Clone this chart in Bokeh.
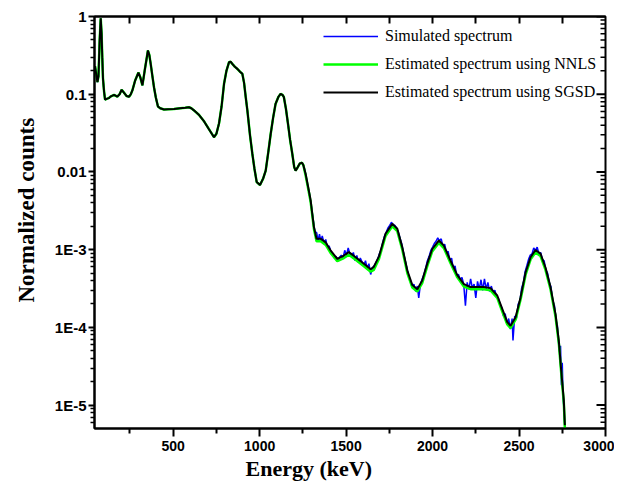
import math
from bokeh.plotting import figure
from bokeh.models import (Range1d, FixedTicker, Legend, LegendItem, LinearAxis,
                          CustomJSTickFormatter, CustomLabelingPolicy, Title)
from bokeh.embed import file_html
from bokeh.resources import INLINE

# ---------------- data ----------------
# low-energy part: all three spectra coincide
low_energy = [48, 55, 62, 68, 75, 81, 86, 90, 94, 100, 106, 115, 127, 140, 158,
              177, 190, 202, 215, 230, 245, 255, 264, 280, 299, 310, 322, 335,
              354, 362, 370, 380, 389, 400, 412, 425, 447, 470, 505, 540, 570,
              591, 605, 620, 650, 678, 705, 736, 750, 765, 780, 794, 808, 823,
              832, 842, 857, 871, 886, 900, 910, 920, 929, 944, 958, 970, 983,
              1002, 1020, 1035, 1050, 1064, 1078, 1092, 1108, 1121, 1132, 1140,
              1152, 1164, 1176, 1189, 1200, 1208, 1220, 1233, 1245, 1253]
low_counts = [0.23, 0.18, 0.143, 0.17, 0.5, 0.95, 0.6, 0.3, 0.16, 0.11, 0.085,
              0.087, 0.089, 0.094, 0.098, 0.093, 0.1, 0.114, 0.105, 0.095, 0.093,
              0.1, 0.112, 0.15, 0.19, 0.165, 0.13, 0.2, 0.365, 0.32, 0.246, 0.17,
              0.123, 0.09, 0.0695, 0.066, 0.0636, 0.064, 0.0645, 0.066, 0.067,
              0.068, 0.066, 0.062, 0.054, 0.045, 0.036, 0.028, 0.031, 0.042, 0.07,
              0.136, 0.2, 0.258, 0.262, 0.246, 0.225, 0.212, 0.195, 0.183, 0.14,
              0.09, 0.062, 0.03, 0.017, 0.011, 0.0074, 0.0068, 0.0082, 0.0104,
              0.018, 0.031, 0.05, 0.075, 0.092, 0.101, 0.098, 0.092, 0.065,
              0.0416, 0.026, 0.017, 0.0115, 0.0104, 0.0115, 0.0129, 0.0131, 0.0122]

# high-energy part of the estimated spectra
tail_energy = [1266, 1280, 1295, 1305, 1314, 1329, 1353, 1382, 1410, 1449, 1487,
               1516, 1555, 1603, 1642, 1660, 1690, 1728, 1767, 1796, 1825, 1854,
               1883, 1912, 1940, 1969, 1998, 2036, 2065, 2104, 2143, 2181, 2220,
               2260, 2297, 2335, 2374, 2403, 2432, 2451, 2480, 2509, 2538, 2567,
               2595, 2624, 2653, 2682, 2711, 2730, 2744, 2759, 2765]
sgsd_tail = [0.0094, 0.0065, 0.0043, 0.0028, 0.00195, 0.00138, 0.00138, 0.00124,
             0.00098, 0.00076, 0.00084, 0.00093, 0.0008, 0.00066, 0.00056, 0.0006,
             0.00082, 0.0016, 0.00215, 0.00186, 0.00107, 0.00054, 0.00035, 0.00031,
             0.0004, 0.00066, 0.00102, 0.00131, 0.00113, 0.00072, 0.00047, 0.00036,
             0.00033, 0.00033, 0.00033, 0.00032, 0.000257, 0.000173, 0.000117,
             0.000105, 0.000135, 0.000245, 0.000512, 0.0008, 0.00099, 0.00089,
             0.00059, 0.00033, 0.000148, 0.0000676, 0.0000276, 0.0000115, 0.0000055]
nnls_tail = [0.009, 0.0062, 0.0041, 0.0027, 0.00185, 0.00128, 0.00128, 0.00115,
             0.00091, 0.00071, 0.00078, 0.00086, 0.00074, 0.00061, 0.00052, 0.00055,
             0.00076, 0.0015, 0.002, 0.00173, 0.001, 0.0005, 0.000325, 0.00029,
             0.00037, 0.00061, 0.00095, 0.00122, 0.00105, 0.00067, 0.00044, 0.000335,
             0.00031, 0.00031, 0.00031, 0.0003, 0.00024, 0.00016, 0.000109, 0.000098,
             0.000126, 0.000228, 0.000476, 0.00075, 0.00092, 0.00083, 0.00055,
             0.00031, 0.000138, 0.000063, 0.0000257, 0.0000107, 0.0000051]

# high-energy part of the (noisy) simulated spectrum
sim_energy = [1262, 1275, 1288, 1300, 1310, 1320, 1330, 1338, 1346, 1354, 1362,
              1372, 1382, 1392, 1402, 1412, 1422, 1432, 1442, 1452, 1462, 1472,
              1482, 1492, 1502, 1512, 1522, 1532, 1542, 1552, 1562, 1572, 1582,
              1592, 1602, 1612, 1622, 1632, 1642, 1652, 1662, 1672, 1682, 1692,
              1702, 1712, 1722, 1732, 1742, 1752, 1762, 1772, 1782, 1792, 1802,
              1812, 1822, 1832, 1842, 1852, 1862, 1872, 1882, 1892, 1902, 1912,
              1920, 1930, 1940, 1950, 1960, 1970, 1980, 1990, 2000, 2010, 2020,
              2030, 2040, 2050, 2060, 2070, 2080, 2090, 2100, 2110, 2120, 2130,
              2140, 2150, 2160, 2170, 2180, 2190, 2200, 2210, 2220, 2230, 2240,
              2250, 2260, 2270, 2280, 2290, 2300, 2310, 2320, 2330, 2340, 2350,
              2360, 2370, 2380, 2390, 2400, 2410, 2420, 2430, 2440, 2450, 2460,
              2465, 2475, 2485, 2495, 2505, 2515, 2525, 2535, 2545, 2555, 2565,
              2575, 2585, 2595, 2605, 2615, 2625, 2635, 2645, 2655, 2665, 2675,
              2685, 2695, 2705, 2715, 2722, 2730, 2735, 2740, 2745, 2750, 2755,
              2760, 2765]
sim_counts = [0.0105, 0.0072, 0.0052, 0.0035, 0.0024, 0.0017, 0.00165, 0.0013,
              0.00158, 0.00128, 0.0015, 0.00122, 0.00135, 0.00108, 0.00112, 0.00094,
              0.00088, 0.00078, 0.00082, 0.00072, 0.0008, 0.00085, 0.00078, 0.00098,
              0.00085, 0.00105, 0.00088, 0.00082, 0.00092, 0.00072, 0.00084, 0.00068,
              0.00078, 0.0007, 0.00062, 0.00072, 0.00058, 0.00066, 0.00048, 0.00058,
              0.00062, 0.00068, 0.00075, 0.00088, 0.001, 0.00125, 0.0015, 0.00168,
              0.0019, 0.00205, 0.00225, 0.0021, 0.00205, 0.0019, 0.00168, 0.0014,
              0.00118, 0.00092, 0.00072, 0.00058, 0.00046, 0.00039, 0.00033, 0.00036,
              0.00029, 0.00034, 0.00024, 0.00036, 0.00042, 0.00048, 0.00058, 0.00072,
              0.00082, 0.00098, 0.00108, 0.0012, 0.00128, 0.00142, 0.0013, 0.00138,
              0.0011, 0.00118, 0.00092, 0.00095, 0.00072, 0.00078, 0.00056, 0.00062,
              0.00046, 0.00048, 0.00041, 0.00044, 0.00036, 0.00019, 0.00038, 0.00031,
              0.00042, 0.00032, 0.00036, 0.00024, 0.00039, 0.00031, 0.00041, 0.0003,
              0.00042, 0.00031, 0.00038, 0.00029, 0.00034, 0.00028, 0.0003, 0.00025,
              0.00024, 0.0002, 0.00018, 0.00014, 0.00015, 0.00011, 0.00013, 0.000095,
              0.00013, 0.000068, 0.00014, 0.00013, 0.0002, 0.00022, 0.00032, 0.00038,
              0.00052, 0.00062, 0.00075, 0.00085, 0.00088, 0.00105, 0.00098, 0.00108,
              0.00088, 0.00092, 0.00075, 0.00072, 0.00055, 0.0005, 0.00038, 0.00033,
              0.00022, 0.00019, 0.00012, 0.000105, 0.000058, 0.000048, 0.000058,
              0.000018, 0.000035, 0.000012, 0.000009, 0.0000052]

series_labels = ["Simulated spectrum", "Estimated spectrum using NNLS",
                 "Estimated spectrum using SGSD"]
x_label = "Energy (keV)"
y_label = "Normalized counts"
x_ticks = [500, 1000, 1500, 2000, 2500, 3000]
x_minor = [250, 750, 1250, 1750, 2250, 2750]
y_ticks = [1e-5, 1e-4, 1e-3, 1e-2, 1e-1, 1]
y_minor = [k * 10.0 ** e for e in range(-6, 0) for k in range(2, 10)]
top_ticks = [250, 500, 750, 1000, 1250, 1500, 1750, 2000, 2250, 2500, 2750]
X_START, X_END = 45, 3000
Y_START, Y_END = 5e-6, 1

# ---------------- layout ----------------
BORDER_L, BORDER_R, BORDER_T, BORDER_B = 94, 9, 16, 61
W, H = 614, 489
FRAME_W = W - BORDER_L - BORDER_R
PX_PER_KEV = FRAME_W / (X_END - X_START)

p = figure(width=W, height=H, x_range=Range1d(X_START, X_END),
           y_range=Range1d(Y_START, Y_END), y_axis_type="log",
           output_backend="svg", toolbar_location=None,
           min_border_left=BORDER_L, min_border_right=BORDER_R,
           min_border_top=BORDER_T, min_border_bottom=BORDER_B)
p.grid.visible = False
p.outline_line_color = "black"
p.outline_line_width = 2
p.background_fill_color = "white"
p.border_fill_color = "white"

# keep direct references to the bottom and left axes
xa = p.below[0]
ya = p.left[0]

r_sim = p.line(low_energy + sim_energy, low_counts + sim_counts,
               line_color="#0000ff", line_width=1.5)
r_nnls = p.line(low_energy + tail_energy, low_counts + nnls_tail,
                line_color="#00ff00", line_width=2.5)
r_sgsd = p.line(low_energy + tail_energy, low_counts + sgsd_tail,
                line_color="black", line_width=2)

# inward ticks on the right frame edge
p.segment(x0=[X_END] * len(y_ticks), x1=[X_END - 9 / PX_PER_KEV] * len(y_ticks),
          y0=y_ticks, y1=y_ticks, line_color="black", line_width=2)
p.segment(x0=[X_END] * len(y_minor), x1=[X_END - 5 / PX_PER_KEV] * len(y_minor),
          y0=y_minor, y1=y_minor, line_color="black", line_width=1.5)

TICK_FONT = "Liberation Sans"
LABEL_FONT = "Liberation Serif"

xa.ticker = FixedTicker(ticks=x_ticks, minor_ticks=x_minor)
xa.major_tick_out = 8
xa.major_tick_in = 0
xa.minor_tick_out = 5
xa.minor_tick_in = 0
xa.axis_line_width = 2
xa.major_tick_line_width = 2
xa.minor_tick_line_width = 2
xa.major_label_text_font = TICK_FONT
xa.major_label_text_font_style = "bold"
xa.major_label_text_font_size = "14px"
xa.major_label_text_color = "black"
xa.major_label_standoff = 4

ya.ticker = FixedTicker(ticks=y_ticks, minor_ticks=y_minor)
ya.formatter = CustomJSTickFormatter(code="""
const e = Math.round(Math.log10(tick));
if (e == 0) return "1";
if (e == -1) return "0.1";
if (e == -2) return "0.01";
return "1E" + e;
""")
ya.major_tick_out = 6
ya.major_tick_in = 0
ya.minor_tick_out = 4
ya.minor_tick_in = 0
ya.axis_line_width = 2
ya.major_tick_line_width = 2
ya.minor_tick_line_width = 1.5
ya.major_label_text_font = TICK_FONT
ya.major_label_text_font_style = "bold"
ya.major_label_text_font_size = "15px"
ya.major_label_text_color = "black"
ya.major_label_standoff = 2

# top axis: inward ticks only, no labels
no_labels = CustomLabelingPolicy(code="""
for (const i of Array.from(indices)) indices.unset(i)
""")
top = LinearAxis(ticker=FixedTicker(ticks=top_ticks, minor_ticks=[]),
                 major_tick_in=7, major_tick_out=0, minor_tick_in=0,
                 minor_tick_out=0, major_label_text_font_size="1px",
                 major_label_policy=no_labels, major_label_standoff=0,
                 axis_line_width=2, major_tick_line_width=2,
                 major_tick_line_color="black", axis_line_color="black")
p.add_layout(top, "above")

# axis titles (offset from centre as in the reference)
p.add_layout(Title(text=x_label, align="left", offset=151, standoff=0,
                   text_font=LABEL_FONT, text_font_style="bold",
                   text_font_size="22px", text_color="black"), "below")
p.add_layout(Title(text=y_label, align="left", offset=126, standoff=22,
                   vertical_align="top",
                   text_font=LABEL_FONT, text_font_style="bold",
                   text_font_size="23px", text_color="black"), "left")

legend = Legend(items=[LegendItem(label=series_labels[0], renderers=[r_sim]),
                       LegendItem(label=series_labels[1], renderers=[r_nnls]),
                       LegendItem(label=series_labels[2], renderers=[r_sgsd])],
                location=(229, 326), padding=0, margin=0, spacing=8,
                glyph_width=55, glyph_height=20, label_height=20,
                label_standoff=7, label_text_font=LABEL_FONT,
                label_text_font_size="16px", label_text_color="black",
                border_line_color=None, background_fill_alpha=0)
p.add_layout(legend)

open("out.html", "w").write(file_html(p, INLINE))
